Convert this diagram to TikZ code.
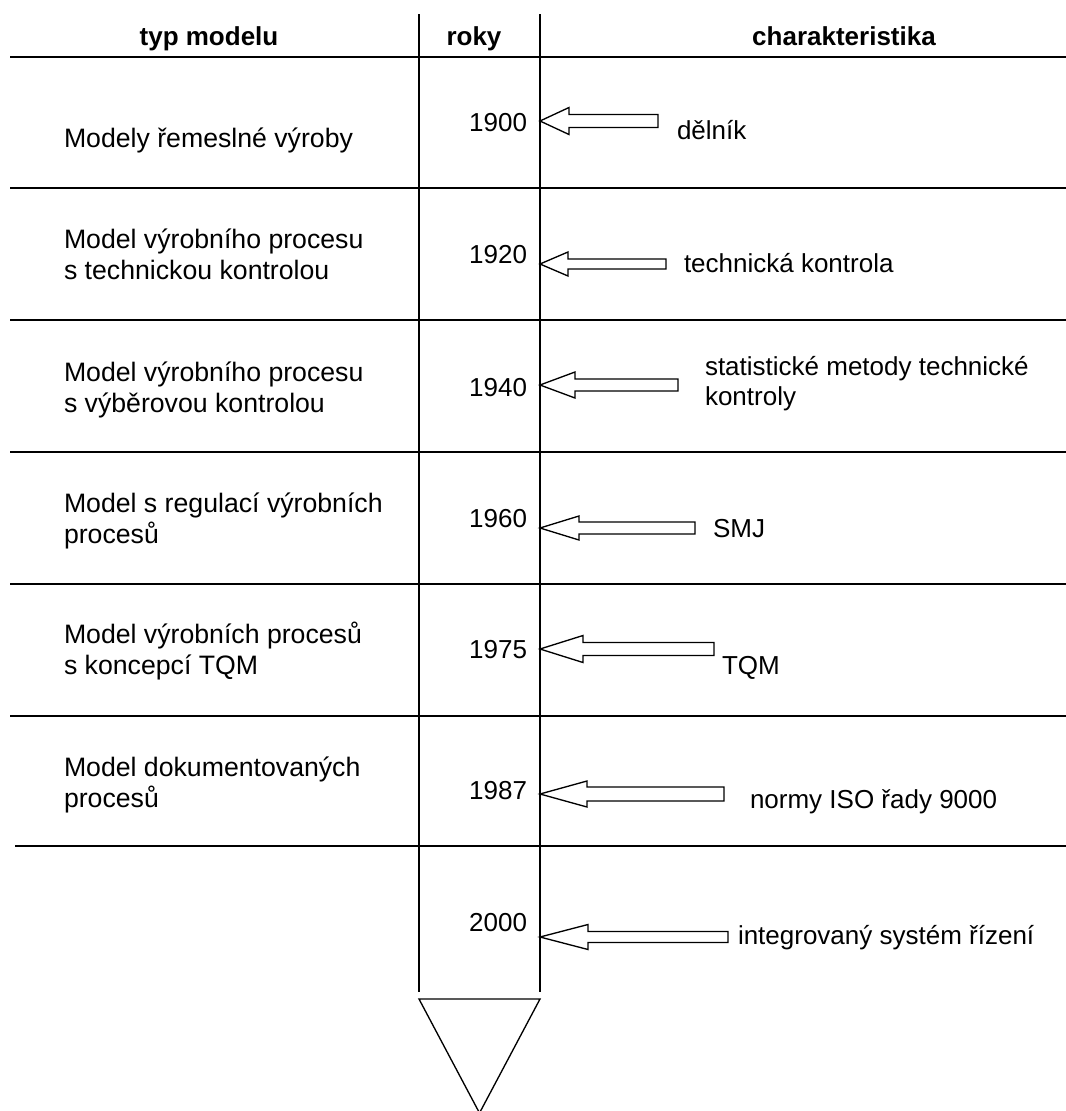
\documentclass[tikz,border=0pt]{standalone}
\usepackage{fontspec}
\setmainfont{Liberation Sans}
\begin{document}
\begin{tikzpicture}[x=0.75pt,y=-0.75pt,
  rule/.style={line width=1pt,black},
  headrule/.style={line width=1.6pt,black},
  blockarrow/.style={line width=1pt,fill=white,line join=miter},
  lbl/.style={inner sep=0pt,outer sep=0pt,font=\fontsize{19.5}{23}\selectfont},
  head/.style={lbl,anchor=base,font=\fontsize{19.5}{23}\selectfont\bfseries},
  model/.style={lbl,anchor=base west,align=left,font=\fontsize{20}{23.2}\selectfont},
  year/.style={lbl,anchor=base east},
  trait/.style={lbl,anchor=base west,align=left,font=\fontsize{19.5}{22.5}\selectfont},
]
\useasboundingbox (0,0) rectangle (1066,1111);
\clip (0,0) rectangle (1066,1111);

% hollow block arrow pointing left onto the time axis:
% #1 tip y, #2 x of head base, #3 head half height, #4 shaft half height, #5 tail x
\newcommand\blockarr[5]{%
  \draw[blockarrow] (540,#1) -- (#2,#1-#3) -- (#2,#1-#4) -- (#5,#1-#4)
    -- (#5,#1+#4) -- (#2,#1+#4) -- (#2,#1+#3) -- cycle;}

% column rules of the time axis
\draw[rule] (419,14) -- (419,992);
\draw[rule] (540,14) -- (540,992);

% header
\node[head] (h1) at (209,45) {typ modelu};
\node[head] (h2) at (474,45) {roky};
\node[head] (h3) at (844,45) {charakteristika};
\draw[headrule] (10,57) -- (1066,57);

% row separators
\foreach \yy in {188,320,452,584,716}
  \draw[rule] (10,\yy) -- (1066,\yy);
\draw[rule] (15,846) -- (1066,846);

% model types (multi-line nodes sit on the baseline of their last line)
\node[model] (m1) at (64,147) {Modely řemeslné výroby};
\node[model] (m2) at (64,279) {Model výrobního procesu\\s technickou kontrolou};
\node[model] (m3) at (64,412) {Model výrobního procesu\\s výběrovou kontrolou};
\node[model] (m4) at (64,543) {Model s regulací výrobních\\procesů};
\node[model] (m5) at (64,674) {Model výrobních procesů\\s koncepcí TQM};
\node[model] (m6) at (64,807) {Model dokumentovaných\\procesů};

% years
\node[year] (y1) at (527,131) {1900};
\node[year] (y2) at (527,263) {1920};
\node[year] (y3) at (527,396) {1940};
\node[year] (y4) at (527,527) {1960};
\node[year] (y5) at (527,658) {1975};
\node[year] (y6) at (527,799) {1987};
\node[year] (y7) at (527,931) {2000};

% characteristics
\node[trait] (c1) at (677,139) {dělník};
\node[trait] (c2) at (684,272) {technická kontrola};
\node[trait] (c3) at (705,405) {statistické metody technické\\kontroly};
\node[trait] (c4) at (713,537) {SMJ};
\node[trait] (c5) at (722,674) {TQM};
\node[trait] (c6) at (750,808) {normy ISO řady 9000};
\node[trait] (c7) at (738,944) {integrovaný systém řízení};

% arrows from each characteristic onto the axis
\blockarr{121}{569}{13.5}{6.5}{658}
\blockarr{264}{568}{12}{5}{666}
\blockarr{385}{575}{13}{6}{678}
\blockarr{528}{579}{12}{6}{695}
\blockarr{649}{583}{13.5}{6.5}{714}
\blockarr{794}{587}{13}{7}{724}
\blockarr{937}{588}{12.5}{5.5}{728}

% open end of the time axis
\draw[rule,line join=miter] (419,999) -- (540,999) -- (479.5,1113) -- cycle;
\end{tikzpicture}
\end{document}
